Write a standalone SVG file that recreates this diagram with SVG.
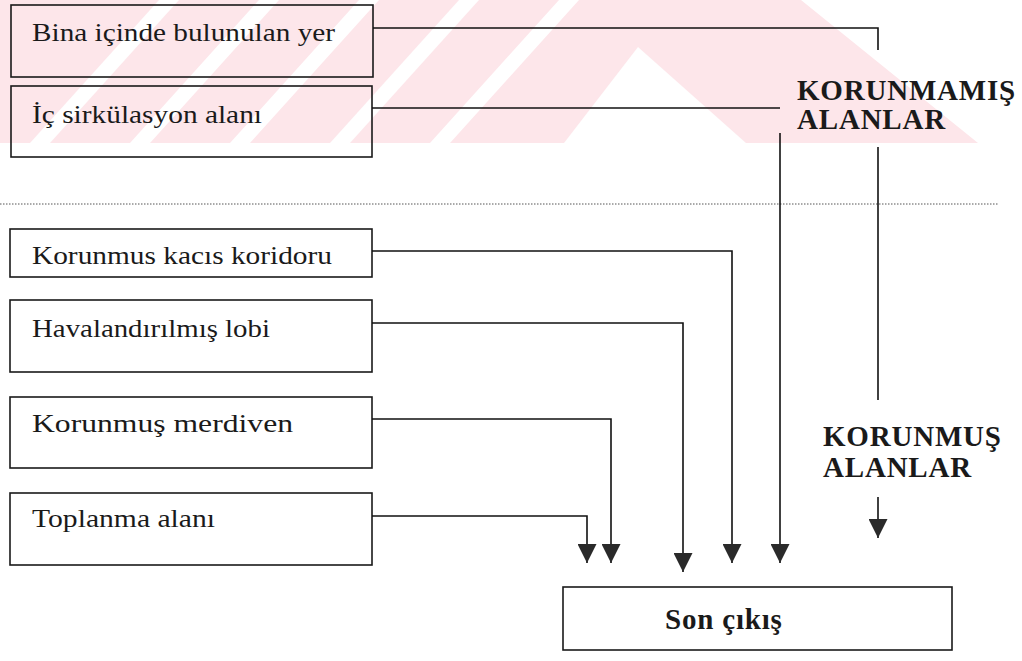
<svg xmlns="http://www.w3.org/2000/svg" width="1022" height="661" viewBox="0 0 1022 661">
  <style>
    .box { fill: none; stroke: #1a1a1a; stroke-width: 1.6; }
    .lbl { font-family: "Liberation Serif", "Times New Roman", serif; font-size: 26px; fill: #1a1a1a; }
    .head { font-family: "Liberation Serif", "Times New Roman", serif; font-size: 29px; font-weight: bold; fill: #1a1a1a; letter-spacing: 0.8px; }
    .wire { fill: none; stroke: #111; stroke-width: 1.6; }
    .dots { fill: none; stroke: #555; stroke-width: 1; stroke-dasharray: 1.5 1.5; }
  </style>
  <defs>
    <marker id="tip" viewBox="0 0 20 20" refX="20" refY="10" markerWidth="20" markerHeight="19" markerUnits="userSpaceOnUse" orient="auto">
      <path d="M0,0 L20,10 L0,20 Z" fill="#2a2a2a"/>
    </marker>
    <clipPath id="band">
      <rect x="0" y="0" width="1022" height="143"/>
    </clipPath>
  </defs>

  <rect x="0" y="0" width="1022" height="661" fill="#ffffff"/>

  <!-- faint pink emblem behind the upper band -->
  <g id="emblem" clip-path="url(#band)">
    <polygon points="0,0 801,0 978,143 0,143" fill="#fde6ea"/>
    <polygon points="638,47 564,143 746,143" fill="#ffffff"/>
    <g fill="#ffffff">
      <polygon points="30,143 50,143 179,0 159,0"/>
      <polygon points="130,143 150,143 279,0 259,0"/>
      <polygon points="230,143 250,143 379,0 359,0"/>
      <polygon points="330,143 350,143 479,0 459,0"/>
      <polygon points="430,143 450,143 579,0 559,0"/>
    </g>
  </g>

  <!-- boundary between unprotected and protected zones -->
  <line class="dots" x1="0" y1="204" x2="998" y2="204"/>

  <g id="n-bina">
    <rect class="box" x="11" y="5" width="362" height="72"/>
    <text class="lbl" x="32" y="41" textLength="303" lengthAdjust="spacingAndGlyphs">Bina içinde bulunulan yer</text>
  </g>
  <g id="n-ic-sirkulasyon">
    <rect class="box" x="11" y="86" width="361" height="71"/>
    <text class="lbl" x="32" y="123" textLength="230" lengthAdjust="spacingAndGlyphs">İç sirkülasyon alanı</text>
  </g>
  <g id="n-koridor">
    <rect class="box" x="10" y="229" width="362" height="48"/>
    <text class="lbl" x="32" y="264" textLength="300" lengthAdjust="spacingAndGlyphs">Korunmus kacıs koridoru</text>
  </g>
  <g id="n-lobi">
    <rect class="box" x="10" y="300" width="362" height="72"/>
    <text class="lbl" x="32" y="337" textLength="238" lengthAdjust="spacingAndGlyphs">Havalandırılmış lobi</text>
  </g>
  <g id="n-merdiven">
    <rect class="box" x="10" y="397" width="362" height="71"/>
    <text class="lbl" x="32" y="432" textLength="261" lengthAdjust="spacingAndGlyphs">Korunmuş merdiven</text>
  </g>
  <g id="n-toplanma">
    <rect class="box" x="10" y="493" width="362" height="72"/>
    <text class="lbl" x="32" y="527" textLength="183" lengthAdjust="spacingAndGlyphs">Toplanma alanı</text>
  </g>
  <g id="n-son-cikis">
    <rect class="box" x="563" y="587" width="389" height="63"/>
    <text class="head" x="665" y="629">Son çıkış</text>
  </g>

  <g id="zone-unprotected">
    <text class="head" x="797" y="100">KORUNMAMIŞ</text>
    <text class="head" x="797" y="129">ALANLAR</text>
  </g>
  <g id="zone-protected">
    <text class="head" x="823" y="446">KORUNMUŞ</text>
    <text class="head" x="823" y="477">ALANLAR</text>
  </g>

  <g id="connectors">
    <path class="wire" d="M373,28 H878 V50"/>
    <path class="wire" d="M878,147 V400"/>
    <path class="wire" d="M878,497 V538" marker-end="url(#tip)"/>
    <path class="wire" d="M372,108 H780"/>
    <path class="wire" d="M780,133 V563" marker-end="url(#tip)"/>
    <path class="wire" d="M372,251 H732 V563" marker-end="url(#tip)"/>
    <path class="wire" d="M372,323 H683 V572" marker-end="url(#tip)"/>
    <path class="wire" d="M372,419 H611 V563" marker-end="url(#tip)"/>
    <path class="wire" d="M372,516 H587 V563" marker-end="url(#tip)"/>
  </g>
</svg>
